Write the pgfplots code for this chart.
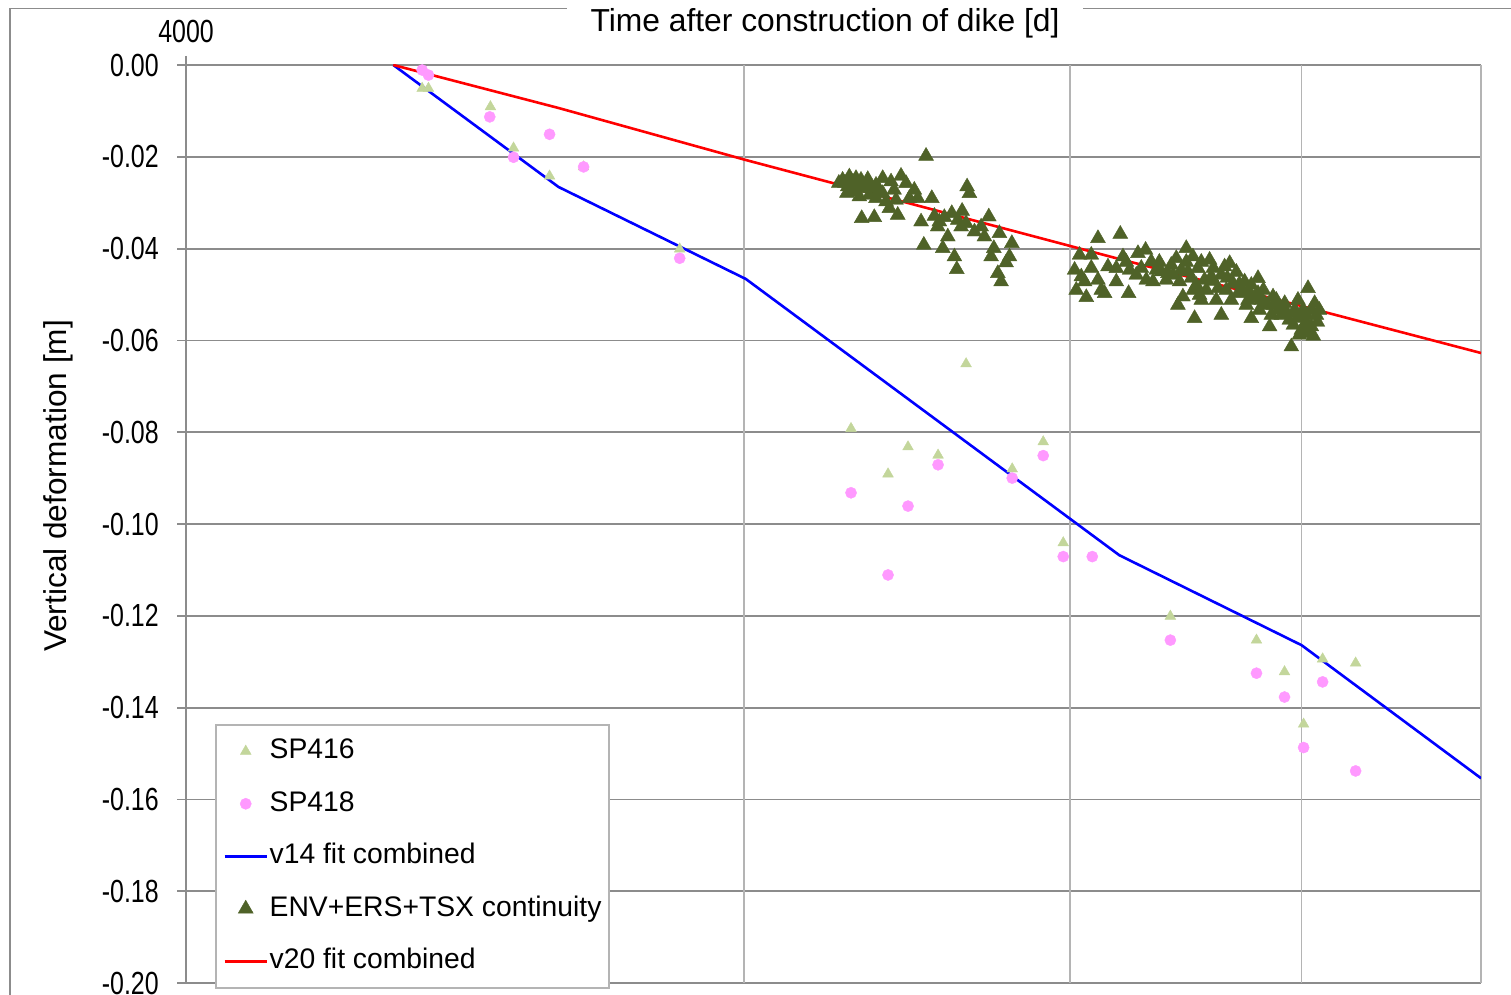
\documentclass[border=0pt]{standalone}
\usepackage{fontspec}
\setmainfont{Liberation Sans}
\newfontfamily\tickfont[FakeStretch=0.78]{Liberation Sans}
\usepackage{pgfplots}
\pgfplotsset{compat=1.18}
\definecolor{sptri}{HTML}{C3D69B}
\definecolor{spdot}{HTML}{FF99FF}
\definecolor{envtri}{HTML}{4F6228}
\definecolor{gridh}{HTML}{8C8C8C}
\definecolor{gridv}{HTML}{B4B4B4}

\pgfplotstableread{
x y
5364 -0.0051
5406 -0.0051
5839 -0.0091
6009 -0.0181
6284 -0.0242
6556 -0.0222
7388 -0.0401
9140 -0.0792
9570 -0.0891
9811 -0.0832
10184 -0.0850
10545 -0.0651
11167 -0.0880
11606 -0.0821
11898 -0.1041
13592 -0.1201
15128 -0.1253
15665 -0.1322
16040 -0.1436
16423 -0.1294
17112 -0.1303
}\spfoursixteen

\pgfplotstableread{
x y
5364 -0.0011
5406 -0.0022
5834 -0.0113
6284 -0.0151
6009 -0.0201
6556 -0.0222
7388 -0.0421
9140 -0.0932
9811 -0.0961
9570 -0.1111
10184 -0.0871
11167 -0.0900
11606 -0.0851
11898 -0.1071
12335 -0.1071
13592 -0.1253
15128 -0.1325
15665 -0.1377
16040 -0.1487
16423 -0.1344
17112 -0.1538
}\spfoureighteen

\pgfplotstableread{
x y
5175 0
6355 -0.02658
8020 -0.04662
12757 -0.1068
16000 -0.1264
20000 -0.1554
}\vfourteen

\pgfplotstableread{
x y
5175 0
6355 -0.00937
8020 -0.0207
12757 -0.04227
16000 -0.05251
20000 -0.06275
}\vtwenty

\pgfplotstableread{
x y
9045 -0.02505
9121 -0.02433
9197 -0.02468
9254 -0.02505
9332 -0.02490
9102 -0.02651
9178 -0.02708
9274 -0.02686
9350 -0.02832
9140 -0.02760
9235 -0.02869
9507 -0.02468
9606 -0.02542
9726 -0.02418
9787 -0.02577
9428 -0.02904
9507 -0.02795
9546 -0.02978
9586 -0.03122
9686 -0.03268
9408 -0.03318
9262 -0.03340
9467 -0.02723
9888 -0.02723
9827 -0.02904
9930 -0.02904
10105 -0.02904
9971 -0.03414
10138 -0.03290
10200 -0.03414
10264 -0.03318
10359 -0.03231
10493 -0.03181
10558 -0.02651
10589 -0.02795
10005 -0.03921
10244 -0.03993
10308 -0.03741
10393 -0.04176
10424 -0.04451
10480 -0.03523
10545 -0.03449
10655 -0.03632
10744 -0.03523
10788 -0.03741
10847 -0.03305
10991 -0.03667
11162 -0.03884
10915 -0.03993
10878 -0.04176
11083 -0.04307
11129 -0.04176
10969 -0.04538
11014 -0.04721
10033 -0.01983
10437 -0.03377
10180 -0.03523
9072 -0.02571
9163 -0.02549
9220 -0.02614
9300 -0.02636
9370 -0.02680
9428 -0.02614
9094 -0.02789
9003 -0.02571
9642 -0.02723
9666 -0.02941
12423 -0.03776
12772 -0.03682
12142 -0.04139
12320 -0.04139
12067 -0.04466
12168 -0.04612
12218 -0.04721
12092 -0.04902
12244 -0.05061
12423 -0.04684
12474 -0.04902
12526 -0.04974
12578 -0.04394
12709 -0.04429
12815 -0.04176
12921 -0.04466
12709 -0.04721
12905 -0.04974
13029 -0.04575
13056 -0.04102
13180 -0.04030
13274 -0.04285
13302 -0.04721
13440 -0.04503
13552 -0.04538
13693 -0.04211
13864 -0.03993
13980 -0.04176
13749 -0.04721
13806 -0.05048
13721 -0.05229
14008 -0.05518
13893 -0.04503
14067 -0.04429
14095 -0.05011
14183 -0.04684
14272 -0.04248
14302 -0.04612
14422 -0.04865
14481 -0.05447
14541 -0.04394
14632 -0.04320
14693 -0.04756
14785 -0.04974
14907 -0.04721
14970 -0.05120
15031 -0.05518
15157 -0.04647
15157 -0.04974
15283 -0.05192
15378 -0.05701
15443 -0.05048
15539 -0.05338
15668 -0.05192
15798 -0.06137
15863 -0.05338
15929 -0.05120
16062 -0.05701
16129 -0.04865
16162 -0.05845
16263 -0.05192
16298 -0.05447
16196 -0.05701
16030 -0.05338
14038 -0.04793
14125 -0.04292
14213 -0.04902
14338 -0.04423
14391 -0.05120
14481 -0.04575
14571 -0.04902
14662 -0.05120
14754 -0.04510
14846 -0.04902
14938 -0.05229
15031 -0.04793
15088 -0.05076
15182 -0.05338
15258 -0.04902
15333 -0.05229
15410 -0.05447
15506 -0.05120
15603 -0.05447
15700 -0.05381
15759 -0.05555
15838 -0.05664
15935 -0.05512
15996 -0.05773
16096 -0.05447
16196 -0.05338
14338 -0.04706
14589 -0.04640
14809 -0.04771
14994 -0.04945
15220 -0.05120
15449 -0.05229
15642 -0.05294
15897 -0.05403
16096 -0.05599
15956 -0.05882
16236 -0.05904
13110 -0.04423
13357 -0.04466
13608 -0.04357
13524 -0.04684
13778 -0.04466
13951 -0.04640
13192 -0.04684
13407 -0.04292
13642 -0.04575
13864 -0.04292
13986 -0.04902
14125 -0.05120
16358 -0.05338
16317 -0.05599
12320 -0.04423
12868 -0.04292
}\envcont

\begin{document}
\begin{tikzpicture}
% page: 1 px of the layout grid = 0.5pt, origin at the top left corner
\path[use as bounding box] (0,0) rectangle (755.5pt,-497.5pt);
% chart area frame
\draw[gridh, line width=0.75pt] (5pt,-497.5pt) -- (5pt,-4.25pt) -- (755.5pt,-4.25pt);
\begin{axis}[
  at={(93pt,-32.5pt)}, anchor=north west,
  scale only axis, width=647.5pt, height=459pt,
  xmode=log, xmin=4000, xmax=20000,
  ymin=-0.2, ymax=0,
  axis x line*=top, axis y line*=left,
  axis line style={gridh, line width=0.9pt},
  xtick={4000},
  xticklabels={4000},
  extra x ticks={8000,12000,16000,20000},
  extra x tick labels={},
  extra x tick style={grid=major, tick style={draw=none}},
  ytick={-0.2,-0.18,-0.16,-0.14,-0.12,-0.1,-0.08,-0.06,-0.04,-0.02,0},
  yticklabels={-0.20,-0.18,-0.16,-0.14,-0.12,-0.10,-0.08,-0.06,-0.04,-0.02,0.00},
  ticklabel style={font=\tickfont\fontsize{16pt}{18pt}\selectfont},
  xticklabel style={inner sep=0pt, yshift=6.5pt},
  yticklabel style={inner sep=0pt, xshift=-9pt},
  tick align=center, major tick length=9pt,
  tick style={gridh, line width=0.9pt},
  xmajorgrids, ymajorgrids,
  x grid style={gridv, line width=0.75pt},
  y grid style={gridh, line width=0.9pt},
  xlabel={Time after construction of dike [d]},
  xlabel style={at={(axis description cs:0.4934,1.0458)}, anchor=center,
    fill=white, minimum width=258pt, minimum height=22pt,
    font=\fontsize{15.9pt}{18pt}\selectfont},
  ylabel={Vertical deformation [m]},
  ylabel style={at={(axis description cs:-0.0988,0.5414)}, anchor=center, rotate=0,
    font=\fontsize{15.8pt}{18pt}\selectfont},
  legend image code/.code={\draw[mark repeat=2,mark phase=2] plot coordinates {(0pt,0pt) (10.5pt,0pt) (21pt,0pt)};},
  legend style={at={(axis description cs:0.0224,0.2821)}, anchor=north west,
    draw=gridv, line width=0.75pt, fill=white,
    font=\fontsize{14.15pt}{16pt}\selectfont,
    inner xsep=3.8pt, inner ysep=6pt, row sep=11.75pt, column sep=0.8pt,
    nodes={inner sep=0pt, text height=11pt, text depth=3.5pt},
    cells={anchor=west}},
]
\addplot[only marks, mark=triangle*, mark size=3.1pt, color=sptri, mark options={line width=0.2pt}] table {\spfoursixteen};
\addlegendentry{SP416}
\addplot[only marks, mark=*, mark size=2.8pt, color=spdot, mark options={line width=0.2pt}] table {\spfoureighteen};
\addlegendentry{SP418}
\addplot[blue, line width=1.3pt, mark=none] table {\vfourteen};
\addlegendentry{v14 fit combined}
\addplot[only marks, mark=triangle*, mark size=4.3pt, color=envtri, mark options={line width=0.2pt}] table {\envcont};
\addlegendentry{ENV+ERS+TSX continuity}
\addplot[red, line width=1.3pt, mark=none] table {\vtwenty};
\addlegendentry{v20 fit combined}
\end{axis}
\end{tikzpicture}
\end{document}
